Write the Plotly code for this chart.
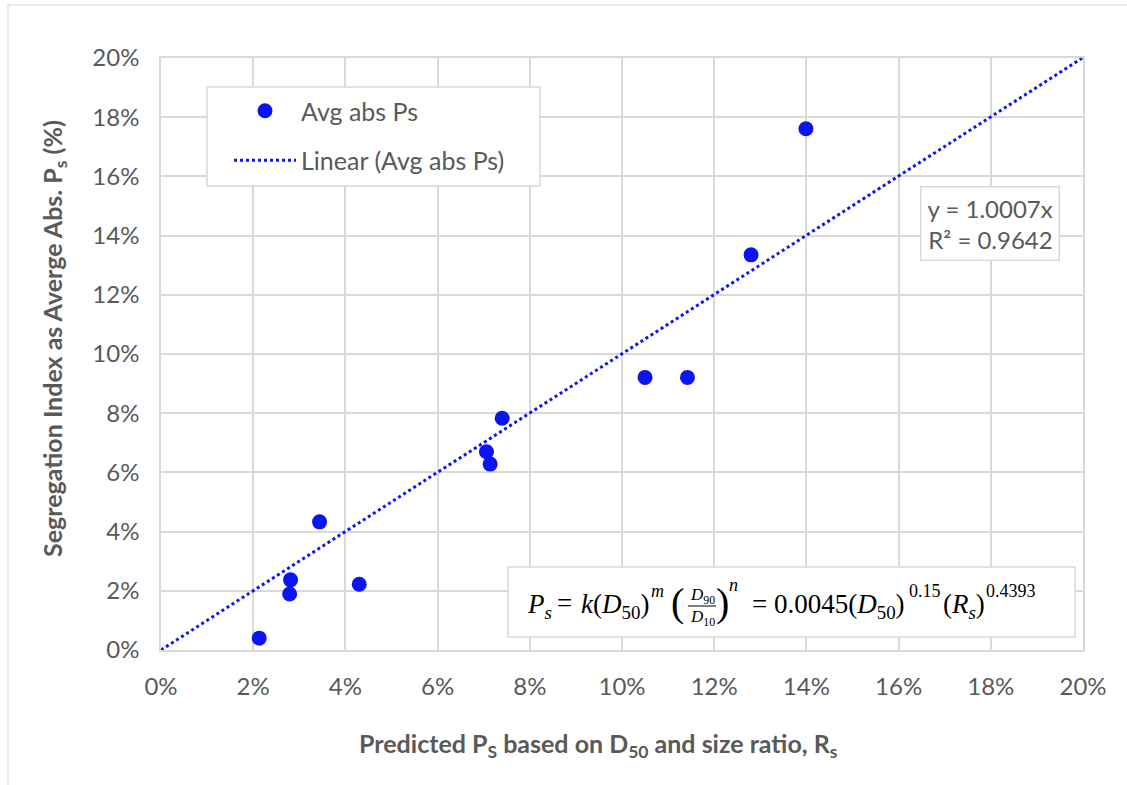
import plotly.graph_objects as go

# ---- data ----
predicted_ps = [0.0213, 0.0281, 0.0279, 0.0344, 0.0430, 0.0706, 0.0714, 0.0740, 0.1050, 0.1142, 0.1280, 0.1399]
avg_abs_ps   = [0.0040, 0.0237, 0.0189, 0.0433, 0.0222, 0.0670, 0.0628, 0.0783, 0.0921, 0.0921, 0.1335, 0.1761]
trend_slope = 1.0007
trend_r2 = 0.9642
trend_x = [0.0, 0.2]
trend_y = [trend_slope * v for v in trend_x]

x_ticks = [i / 100 for i in range(0, 21, 2)]
y_ticks = [i / 100 for i in range(0, 21, 2)]

W, H = 1127, 785
ML, MR, MT, MB = 161, 44, 58, 135
PW, PH = W - ML - MR, H - MT - MB

def px(x):
    return (x - ML) / PW

def py(y):
    return (H - MB - y) / PH

GRAY = "#595959"
GRID = "#d9d9d9"
BLUE = "#0a14f5"
FONT = "Lato"
SERIF = "Liberation Serif"

fig = go.Figure()
fig.add_trace(go.Scatter(
    x=predicted_ps, y=avg_abs_ps, mode="markers", name="Avg abs Ps",
    marker=dict(color=BLUE, size=15, line=dict(width=0)), legendgroup="a",
))
fig.add_trace(go.Scatter(
    x=trend_x, y=trend_y, mode="lines", name="Linear (Avg abs Ps)",
    line=dict(color=BLUE, width=3, dash="dot"), legendgroup="b",
))

axis_common = dict(
    range=[0, 0.2], tickformat=".0%", showgrid=True, gridcolor=GRID, gridwidth=1.5,
    showline=True, linecolor=GRID, linewidth=1.5, mirror=True, zeroline=False,
    ticks="", tickfont=dict(family=FONT, size=24, color=GRAY), fixedrange=True,
)
fig.update_xaxes(tickvals=x_ticks, ticklabelstandoff=14, **axis_common)
fig.update_yaxes(tickvals=y_ticks, ticklabelstandoff=15, **axis_common)

shapes = [
    # outer chart border
    dict(type="rect", xref="paper", yref="paper", x0=px(8), x1=px(1150), y0=py(5), y1=py(800),
         line=dict(color="#e3e3e3", width=1.5), fillcolor="rgba(0,0,0,0)", layer="below"),
    # legend box
    dict(type="rect", xref="paper", yref="paper", x0=px(207), x1=px(540), y0=py(87), y1=py(186),
         line=dict(color=GRID, width=1.5), fillcolor="white", layer="above"),
    # formula box
    dict(type="rect", xref="paper", yref="paper", x0=px(508), x1=px(1075), y0=py(567), y1=py(637),
         line=dict(color=GRID, width=1.5), fillcolor="white", layer="above"),
    # fraction bar
    dict(type="line", xref="paper", yref="paper", x0=px(688), x1=px(716), y0=py(606), y1=py(606),
         line=dict(color="black", width=1)),
]

ann = []
# axis titles
ann.append(dict(text="Predicted P<sub>S</sub> based on D<sub>50</sub> and size ratio, R<sub>s</sub>",
                xref="paper", yref="paper", x=px(598), y=py(745), showarrow=False,
                xanchor="center", yanchor="middle", font=dict(family=FONT, size=25, color=GRAY, weight="bold")))
ann.append(dict(text="Segregation Index as Averge Abs. P<sub>s</sub> (%)",
                xref="paper", yref="paper", x=px(54), y=py(339), showarrow=False, textangle=-90,
                xanchor="center", yanchor="middle", font=dict(family=FONT, size=25, color=GRAY, weight="bold")))
# trendline equation
ann.append(dict(text=f"y = {trend_slope:.4f}x<br>R² = {trend_r2:.4f}",
                xref="paper", yref="paper", x=px(990), y=py(224), showarrow=False,
                xanchor="center", yanchor="middle", align="right",
                font=dict(family=FONT, size=24, color=GRAY),
                bgcolor="white", bordercolor=GRID, borderwidth=1.5, borderpad=6))

# formula pieces
def piece(text, x, y, size, anchor="left"):
    ann.append(dict(text=text, xref="paper", yref="paper", x=px(x), y=py(y), showarrow=False,
                    xanchor=anchor, yanchor="middle", font=dict(family=SERIF, size=size, color="black")))

FS = 27
SUP = 18
piece("<i>P<sub>s</sub></i>", 525, 606, FS)
piece("=", 564, 603, FS, "center")
piece("<i>k</i>(<i>D</i><sub>50</sub>)", 579, 606, FS)
piece("<i>m</i>", 649, 591, SUP)
piece("(", 677, 602, 40, "center")
piece("<i>D</i><sub>90</sub>", 702, 596, 17, "center")
piece("<i>D</i><sub>10</sub>", 702, 618, 17, "center")
piece(")", 722, 602, 40, "center")
piece("<i>n</i>", 733, 585, SUP, "center")
piece("= 0.0045(<i>D</i><sub>50</sub>)", 750, 606, FS)
piece("0.15", 907, 591, SUP)
piece("(<i>R<sub>s</sub></i>)", 941, 606, FS)
piece("0.4393", 984, 591, SUP)

fig.update_layout(
    width=W, height=H, margin=dict(l=ML, r=MR, t=MT, b=MB),
    paper_bgcolor="white", plot_bgcolor="white",
    showlegend=True,
    legend=dict(x=px(229), y=py(88), xanchor="left", yanchor="top",
                bgcolor="rgba(0,0,0,0)", borderwidth=0,
                font=dict(family=FONT, size=25, color=GRAY),
                tracegroupgap=14, itemwidth=62, traceorder="grouped"),
    shapes=shapes, annotations=ann,
)

fig.write_html("out.html", config={"displayModeBar": False},
               post_script="document.body.style.margin='0';document.body.style.padding='0';")
